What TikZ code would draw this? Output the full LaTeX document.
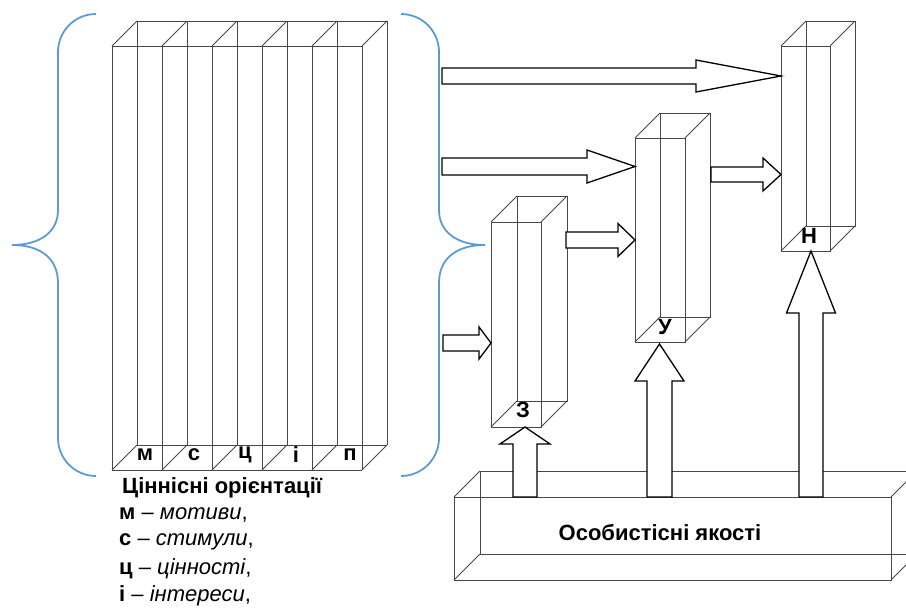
\documentclass[tikz,border=0pt]{standalone}
\usepackage{fontspec}
\setmainfont{Liberation Sans}
\definecolor{bracecol}{HTML}{5B9BD5}
\tikzset{
  wire/.style={draw=black!72, line width=0.8pt},
  blockarrow/.style={draw=black, fill=white, line width=1.3pt, line join=miter},
  bracestyle/.style={draw=bracecol, line width=1.8pt},
  txt/.style={font=\fontsize{22}{26}\selectfont, inner sep=0pt},
  lbl/.style={font=\fontsize{22}{26}\selectfont\bfseries, inner sep=0pt},
}
% prism: x1 y1 x2 y2 (front face) depth
\newcommand\myprism[5]{%
  \draw[wire] (#1,#2) rectangle (#3,#4);
  \draw[wire] (#1+#5,#2-#5) rectangle (#3+#5,#4-#5);
  \draw[wire] (#1,#2)--(#1+#5,#2-#5) (#3,#2)--(#3+#5,#2-#5)
              (#1,#4)--(#1+#5,#4-#5) (#3,#4)--(#3+#5,#4-#5);}
% right block arrow: x0 xtip yc shafthalf headhalf headlen
\newcommand\rarrow[6]{%
  \draw[blockarrow] (#1,#3-#4) -- (#2-#6,#3-#4) -- (#2-#6,#3-#5) -- (#2,#3)
    -- (#2-#6,#3+#5) -- (#2-#6,#3+#4) -- (#1,#3+#4) -- cycle;}
% up block arrow: xc ybottom ytip shafthalf headhalf headlen
\newcommand\uarrow[6]{%
  \draw[blockarrow] (#1-#4,#2) -- (#1-#4,#3+#6) -- (#1-#5,#3+#6) -- (#1,#3)
    -- (#1+#5,#3+#6) -- (#1+#4,#3+#6) -- (#1+#4,#2) -- cycle;}
\begin{document}
\begin{tikzpicture}[x=1pt,y=-1pt]
\useasboundingbox (0,0) rectangle (906,608);
\clip (0,0) rectangle (906,608);

% ---- five value columns ----
\foreach \x in {112,162,...,362}{
  \draw[wire] (\x,46)--(\x,470);
  \draw[wire] (\x+25,21)--(\x+25,445);
  \draw[wire] (\x,46)--(\x+25,21);
  \draw[wire] (\x,470)--(\x+25,445);
}
\draw[wire] (112,46)--(362,46) (137,21)--(387,21)
            (112,470)--(362,470) (137,445)--(387,445);
\node[lbl] (cm) at (145,455) {м};
\node[lbl] (cs) at (194,455) {с};
\node[lbl] (cc) at (245,455) {ц};
\node[lbl] (ci) at (296,455) {і};
\node[lbl] (cp) at (350,455) {п};

% ---- braces ----
\draw[bracestyle] (96,14) .. controls (75,14) and (58,31) .. (58,52) -- (58,210)
  .. controls (58,232) and (40,245) .. (12,245)
  .. controls (40,245) and (58,258) .. (58,283) -- (58,438)
  .. controls (58,459) and (75,476) .. (96,476);
\draw[bracestyle] (401,14) .. controls (422,14) and (439,31) .. (439,52) -- (439,210)
  .. controls (439,232) and (457,245) .. (485,245)
  .. controls (457,245) and (439,258) .. (439,283) -- (439,438)
  .. controls (439,459) and (422,476) .. (401,476);

% ---- level boxes ----
\myprism{491}{222}{541}{427}{26}
\myprism{635}{138}{685}{342}{25}
\myprism{781}{46}{830}{251}{25}
\node[lbl] (z) at (523,410) {З};
\node[lbl] (u) at (665,327) {У};
\node[lbl] (n) at (809,236) {Н};

% ---- personal qualities box ----
\myprism{454}{497}{891}{580}{26}
\node[lbl] (q) at (660,533) {Особистісні якості};

% ---- horizontal arrows ----
\rarrow{442}{781}{76}{8}{16}{85}
\rarrow{442}{635}{166.5}{8.5}{16.5}{48}
\rarrow{443}{491}{343}{8}{16}{12}
\rarrow{566}{635}{240}{8}{16.5}{17}
\rarrow{711}{781}{174.5}{7.5}{16.5}{18}

% ---- vertical arrows ----
\uarrow{525}{497}{427}{12}{25}{17}
\uarrow{659.5}{497}{344}{12.5}{24.5}{37}
\uarrow{811}{497}{251}{12}{24.5}{62}

% ---- legend ----
\node[txt, anchor=west] (title) at (122,488) {\bfseries Ціннісні орієнтації};
\node[txt, anchor=west] (l1) at (119,515) {{\bfseries м} – {\itshape мотиви},};
\node[txt, anchor=west] (l2) at (119,542) {{\bfseries с} – {\itshape стимули},};
\node[txt, anchor=west] (l3) at (119,569) {{\bfseries ц} – {\itshape цінності},};
\node[txt, anchor=west] (l4) at (119,596) {{\bfseries і} – {\itshape інтереси},};
\end{tikzpicture}
\end{document}
